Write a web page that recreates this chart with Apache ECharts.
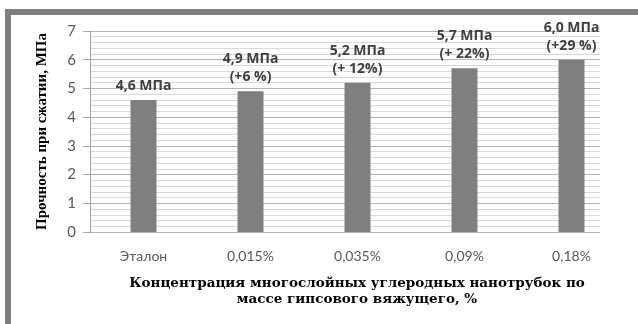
<!DOCTYPE html>
<html>
<head>
<meta charset="utf-8">
<script src="https://cdn.jsdelivr.net/npm/echarts@6/dist/echarts.min.js"></script>
<style>
  html, body { margin: 0; padding: 0; background: #ffffff; }
  #chart { width: 638px; height: 324px; }
</style>
</head>
<body>
<div id="chart"></div>
<script>
// Compressive strength of gypsum binder vs. MWCNT concentration
const categories = ['Эталон', '0,015%', '0,035%', '0,09%', '0,18%'];
const strength = [4.6, 4.9, 5.2, 5.7, 6.0];
const gain = ['', '+6 %', '+ 12%', '+ 22%', '+29 %'];
const yTicks = [0, 1, 2, 3, 4, 5, 6, 7];

const yTitle = 'Прочность при сжатии, МПа';
const xTitleLines = ['Концентрация многослойных углеродных нанотрубок по', 'массе гипсового вяжущего, %'];

const sans = 'Lato, "Open Sans", sans-serif';
const labelSans = '"Open Sans", Lato, sans-serif';
const serif = '"Liberation Serif", "DejaVu Serif", serif';
const wideSerif = '"DejaVu Serif", "Liberation Serif", serif';

const chart = echarts.init(document.getElementById('chart'), null, { renderer: 'canvas' });

function fmt(v) { return v.toFixed(1).replace('.', ',') + ' МПа'; }

chart.setOption({
  animation: false,
  backgroundColor: '#ffffff',
  grid: [
    // value grid (gridlines + y axis)
    { left: 90, right: 38, top: 31, bottom: 92 },
    // bars on the category band
    { left: 90, right: 13, top: 31, bottom: 92 }
  ],
  xAxis: [
    { gridIndex: 0, type: 'value', show: false, min: 0, max: 1 },
    {
      gridIndex: 1, type: 'category', data: categories,
      axisLine: { show: false }, axisTick: { show: false },
      axisLabel: { color: '#595959', fontFamily: sans, fontSize: 14, margin: 17 }
    }
  ],
  yAxis: [
    {
      gridIndex: 0, type: 'value', min: yTicks[0], max: yTicks[yTicks.length - 1], interval: 1,
      axisLine: { show: true, lineStyle: { color: '#a6a6a6', width: 1 } },
      axisTick: { show: true, length: 7, lineStyle: { color: '#a6a6a6' } },
      axisLabel: { color: '#595959', fontFamily: sans, fontSize: 15, margin: 14 },
      splitLine: { show: true, lineStyle: { color: '#b3b3b3', width: 1 } },
      minorTick: { show: false, splitNumber: 5 },
      minorSplitLine: { show: true, lineStyle: { color: '#d9d9d9', width: 1 } },
      name: yTitle, nameLocation: 'middle', nameRotate: 90, nameGap: 40,
      nameTextStyle: { fontFamily: serif, fontWeight: 'bold', fontSize: 15, color: '#000000' }
    },
    { gridIndex: 1, type: 'value', min: 0, max: 7, show: false }
  ],
  series: [{
    type: 'bar',
    xAxisIndex: 1, yAxisIndex: 1,
    data: strength,
    barWidth: 26,
    itemStyle: { color: '#7f7f7f' },
    label: {
      show: true, position: 'top', distance: 5,
      fontFamily: labelSans, fontWeight: 'bold', fontSize: 14, color: '#404040', lineHeight: 18,
      formatter: p => gain[p.dataIndex] ? fmt(p.value) + '\n(' + gain[p.dataIndex] + ')' : fmt(p.value)
    }
  }],
  graphic: [
    // frame edges
    { type: 'rect', shape: { x: 5, y: 9, width: 633, height: 6 }, style: { fill: '#7f7f7f' } },
    { type: 'rect', shape: { x: 5, y: 9, width: 6, height: 315 }, style: { fill: '#7f7f7f' } },
    {
      type: 'text', x: 357, y: 283,
      style: { text: xTitleLines[0], fontFamily: wideSerif, fontWeight: 'bold', fontSize: 13.5, fill: '#000', align: 'center', verticalAlign: 'middle' }
    },
    {
      type: 'text', x: 357, y: 299,
      style: { text: xTitleLines[1], fontFamily: wideSerif, fontWeight: 'bold', fontSize: 13.5, fill: '#000', align: 'center', verticalAlign: 'middle' }
    }
  ]
});
</script>
</body>
</html>
